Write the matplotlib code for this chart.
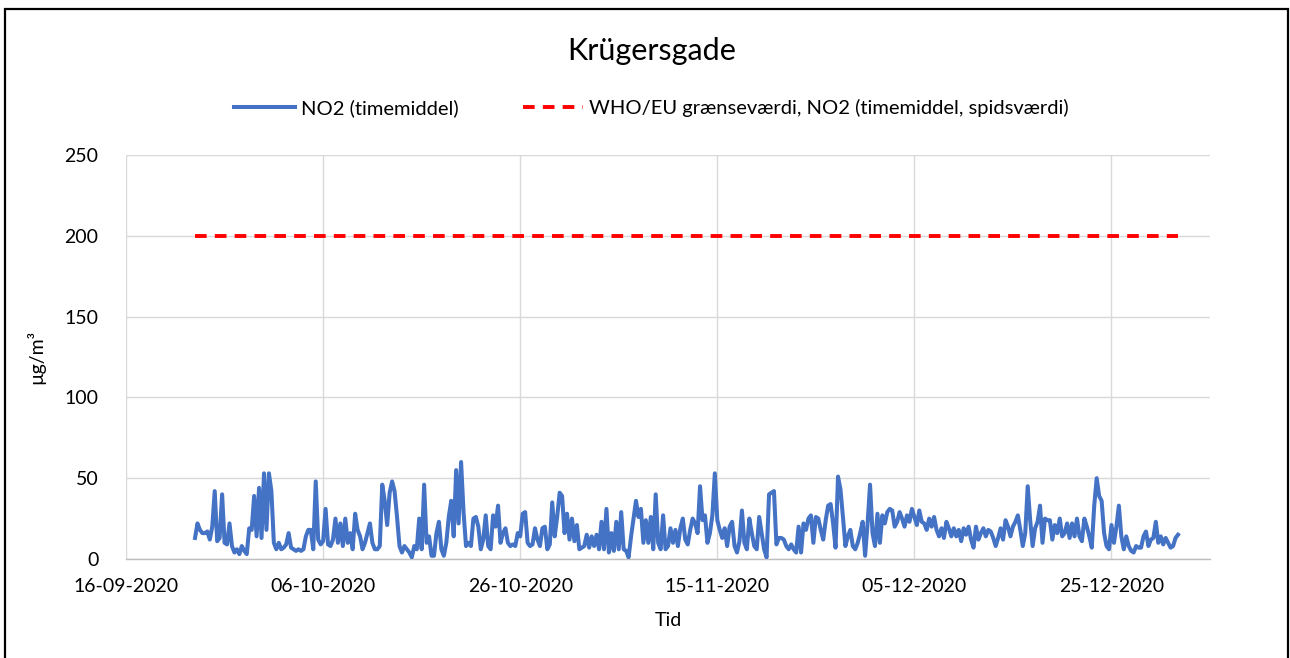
import numpy as np
import pandas as pd
import matplotlib.pyplot as plt
import matplotlib.dates as mdates
from matplotlib.patches import Rectangle

plt.rcParams['font.family'] = ['Lato', 'DejaVu Sans']

station = 'Krügersgade'
limit_value = 200

# NO2, 6-hour readings (00, 06, 12, 18) per day, from 23-09-2020
no2_sep = [13, 22, 18, 16, 16, 17, 12, 20, 42, 11, 13, 40, 10, 9, 22, 8,
           4, 6, 3, 8, 5, 3, 19, 18, 39, 14, 44, 13, 53, 18, 53, 42]
no2_oct = [10, 6, 10, 6, 7, 9, 16, 7, 6, 5, 6, 5, 6, 14, 18, 18,
           6, 48, 12, 9, 11, 31, 9, 8, 12, 25, 10, 22, 8, 25, 10, 16,
           6, 28, 18, 14, 6, 10, 16, 22, 10, 6, 6, 8, 46, 36, 21, 41,
           48, 42, 26, 8, 4, 8, 6, 4, 1, 8, 6, 25, 6, 46, 10, 14,
           2, 2, 16, 23, 6, 2, 10, 26, 36, 14, 55, 22, 60, 29, 8, 10,
           8, 25, 26, 20, 6, 12, 27, 8, 6, 27, 20, 33, 10, 16, 19, 10,
           8, 9, 8, 16, 14, 28, 29, 10, 8, 9, 19, 12, 8, 19, 20, 6,
           9, 35, 14, 26, 41, 39, 16, 28, 12, 25, 11, 21]
no2_nov = [6, 7, 8, 15, 7, 14, 8, 15, 6, 23, 6, 31, 4, 16, 5, 23,
           6, 29, 6, 5, 1, 14, 25, 36, 26, 31, 10, 24, 10, 26, 6, 40,
           10, 6, 27, 6, 8, 19, 10, 18, 8, 19, 25, 12, 9, 18, 25, 22,
           16, 45, 24, 27, 10, 16, 27, 53, 24, 18, 13, 19, 8, 20, 23, 8,
           4, 11, 30, 10, 6, 25, 16, 8, 6, 26, 16, 6, 1, 40, 41, 42,
           9, 13, 13, 12, 8, 6, 9, 6, 4, 20, 4, 22, 18, 25, 27, 10,
           26, 25, 18, 12, 24, 33, 34, 22, 7, 51, 43, 26, 8, 14, 18, 8,
           6, 10, 16, 23, 2, 22, 46, 16]
no2_dec = [8, 28, 10, 27, 22, 29, 31, 30, 20, 23, 29, 25, 20, 27, 23, 31,
           26, 21, 30, 23, 22, 18, 25, 20, 26, 18, 14, 19, 13, 23, 19, 14,
           19, 14, 18, 11, 19, 15, 20, 12, 7, 20, 12, 16, 19, 14, 18, 17,
           13, 8, 13, 19, 12, 24, 20, 14, 20, 23, 27, 18, 8, 16, 45, 24,
           8, 19, 23, 33, 10, 25, 24, 24, 12, 21, 16, 25, 14, 16, 22, 13,
           22, 14, 25, 14, 11, 25, 20, 14, 7, 33, 50, 39, 36, 16, 8, 6,
           21, 10, 20, 33, 14, 6, 14, 8, 5, 4, 8, 7, 7, 14, 17, 8,
           12, 13, 23, 10, 14, 9, 13, 10, 7, 8, 13, 15]

no2 = np.array(no2_sep + no2_oct + no2_nov + no2_dec)
times = pd.date_range('2020-09-23', periods=len(no2), freq='6h')
limit = np.full(len(no2), limit_value)

fig = plt.figure(figsize=(12.9, 6.58), dpi=100)
ax = fig.add_axes([0.0977, 0.1505, 0.8403, 0.6139])

ax.plot(times, no2, color='#4472C4', lw=2.9, label='NO2 (timemiddel)', zorder=3)
ax.plot(times, limit, color='#FF0000', lw=2.8, dashes=(3.0, 2.1),
        label='WHO/EU grænseværdi, NO2 (timemiddel, spidsværdi)', zorder=3)

# date axis, 20 day steps
start = pd.Timestamp('2020-09-16')
ax.set_xlim(start, start + pd.Timedelta(days=110))
ax.set_xticks(pd.date_range(start, periods=6, freq='20D'))
ax.xaxis.set_major_formatter(mdates.DateFormatter('%d-%m-%Y'))
ax.set_ylim(0, 250)
ax.set_yticks(np.arange(0, 251, 50))

ax.grid(True, color='#D9D9D9', lw=1.0)
ax.set_axisbelow(True)
for side in ['top', 'right']:
    ax.spines[side].set_visible(False)
ax.spines['left'].set_visible(False)
ax.spines['bottom'].set_color('#BFBFBF')
ax.spines['bottom'].set_linewidth(1.0)
ax.tick_params(length=0, labelsize=14, colors='black')
ax.tick_params(axis='x', pad=14)
ax.tick_params(axis='y', pad=20)

ax.set_xlabel('Tid', fontsize=14, labelpad=12)
ax.set_ylabel('µg/m³', fontsize=14, labelpad=14)

fig.text(0.505, 0.923, station, ha='center', va='center', fontsize=22)
fig.legend(loc='center', bbox_to_anchor=(0.505, 0.836), ncol=2, frameon=False,
           fontsize=14.5, handlelength=3.0, handletextpad=0.3, columnspacing=3.2)

# outer frame
fig.patches.append(Rectangle((5 / 1290, -0.05), 1283 / 1290, 1.05 - 9 / 658,
                             transform=fig.transFigure, fill=False,
                             edgecolor='black', lw=1.6))

fig.savefig('out.png', dpi=100)
